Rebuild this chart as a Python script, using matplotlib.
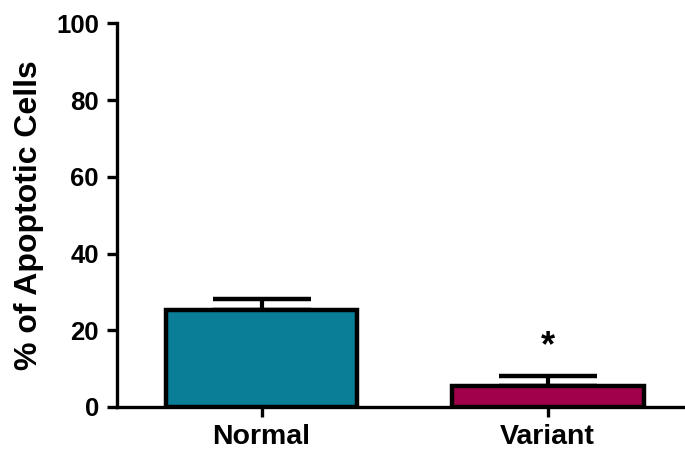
import matplotlib
matplotlib.use("Agg")
import matplotlib.pyplot as plt

# Data
groups = ["Normal", "Variant"]
means = [25.3, 5.6]
errors = [2.8, 2.4]
colors = ["#0a7e96", "#a1004a"]
yticks = [0, 20, 40, 60, 80, 100]

plt.rcParams["font.family"] = ["Liberation Sans", "DejaVu Sans"]
plt.rcParams["font.weight"] = "bold"

fig = plt.figure(figsize=(6.85, 4.51), dpi=100)
ax = fig.add_axes([117 / 685, 1 - 407 / 451, 1 - 117 / 685, (407 - 23.3) / 451])

x = list(range(len(groups)))
ax.bar(x, means, width=0.67, color=colors, edgecolor="black", linewidth=3.2, zorder=3)
eb = ax.errorbar(x, means, yerr=[[0, 0], errors], fmt="none", ecolor="black",
                 elinewidth=3.0, capsize=35, capthick=3.2, zorder=2)
for cap in eb[1]:
    cap.set_solid_capstyle("round")
for line in eb[2]:
    line.set_capstyle("butt")

ax.text(1, 15.8, "*", ha="center", va="center", fontsize=26, fontweight="bold")

ax.set_xlim(-0.505, 1.48)
ax.set_ylim(0, 100)
ax.set_xticks(x)
ax.set_xticklabels(groups, fontsize=20.5, fontweight="bold")
ax.set_yticks(yticks)
ax.set_yticklabels([str(t) for t in yticks], fontsize=18.5, fontweight="bold")
ax.set_ylabel("% of Apoptotic Cells", fontsize=23, fontweight="bold", labelpad=9)

for side in ["top", "right"]:
    ax.spines[side].set_visible(False)
for side in ["left", "bottom"]:
    ax.spines[side].set_linewidth(2.4)
ax.tick_params(axis="both", length=7, width=2.4)
ax.tick_params(axis="y", pad=6)
ax.tick_params(axis="x", pad=5)

fig.savefig("out.png", dpi=100)
